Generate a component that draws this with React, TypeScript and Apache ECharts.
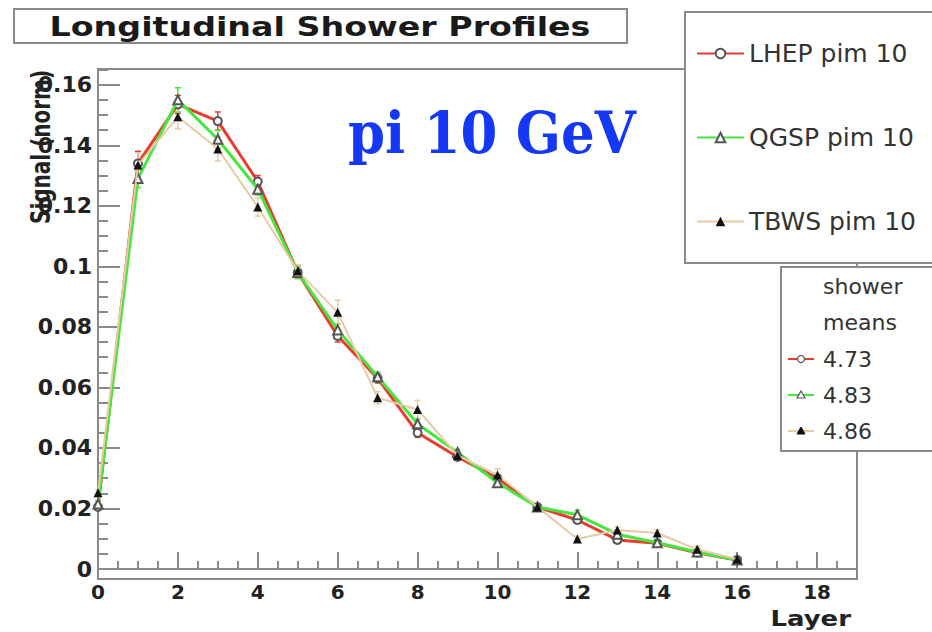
import React, { useEffect, useRef } from "react";
import * as echarts from "echarts";

const layers = [0, 1, 2, 3, 4, 5, 6, 7, 8, 9, 10, 11, 12, 13, 14, 15, 16];
const lhep = [0.0205, 0.134, 0.1535, 0.148, 0.128, 0.098, 0.077, 0.063, 0.045, 0.037, 0.030, 0.0205, 0.0162, 0.0096, 0.0085, 0.0054, 0.003];
const qgsp = [0.0215, 0.129, 0.155, 0.142, 0.1255, 0.098, 0.079, 0.0635, 0.048, 0.0385, 0.0285, 0.0205, 0.0179, 0.0115, 0.0087, 0.0056, 0.003];
const tbws = [0.0252, 0.1335, 0.1494, 0.1388, 0.1196, 0.0985, 0.0848, 0.0566, 0.0527, 0.0375, 0.0311, 0.0205, 0.0099, 0.0129, 0.0119, 0.0065, 0.0032];
const lhepErr = [0.001, 0.004, 0.003, 0.003, 0.002, 0.002, 0.002, 0.0015, 0.0015, 0.001, 0.001, 0.001, 0.001, 0.001, 0.001, 0.001, 0.0008];
const qgspErr = [0.001, 0.003, 0.004, 0.003, 0.002, 0.002, 0.002, 0.0015, 0.0015, 0.001, 0.001, 0.001, 0.0015, 0.001, 0.001, 0.001, 0.0008];
const tbwsErr = [0.001, 0.004, 0.004, 0.004, 0.003, 0.002, 0.004, 0.002, 0.003, 0.001, 0.002, 0.001, 0.001, 0.001, 0.001, 0.001, 0.0008];

const seriesNames = ["LHEP pim 10", "QGSP pim 10", "TBWS pim 10"];
const showerMeans = ["4.73", "4.83", "4.86"];
const lineColors = ["#ec3a2e", "#44e83c", "#e8caa6"];

const chartTitle = "Longitudinal Shower Profiles";
const yTitle = "Signal (norm)";
const xTitle = "Layer";
const overlayLabel = "pi 10 GeV";

const SANS = "DejaVu Sans";

function errSeries(vals: number[], errs: number[], color: string) {
  return {
    type: "custom",
    silent: true,
    z: 1,
    encode: { x: 0, y: 1 },
    data: layers.map((x, i) => [x, vals[i], errs[i]]),
    renderItem: (_params: any, api: any) => {
      const x = api.value(0);
      const y = api.value(1);
      const e = api.value(2);
      const top = api.coord([x, y + e]);
      const bot = api.coord([x, y - e]);
      const st = { stroke: color, lineWidth: 1.5 };
      return {
        type: "group",
        children: [
          { type: "line", shape: { x1: top[0], y1: top[1], x2: bot[0], y2: bot[1] }, style: st },
          { type: "line", shape: { x1: top[0] - 3, y1: top[1], x2: top[0] + 3, y2: top[1] }, style: st },
          { type: "line", shape: { x1: bot[0] - 3, y1: bot[1], x2: bot[0] + 3, y2: bot[1] }, style: st },
        ],
      };
    },
  };
}

export default function App() {
  const ref = useRef<HTMLDivElement>(null);

  useEffect(() => {
    if (!ref.current) return;
    const chart = echarts.init(ref.current, null, { renderer: "svg" });

    const legendBox2 = {
      type: "group",
      z: 10,
      children: [
        { type: "rect", shape: { x: 781, y: 267, width: 220, height: 184 }, style: { fill: "#fff", stroke: "#8a8a8a", lineWidth: 2 } },
        { type: "text", x: 823, y: 286, style: { text: "shower", font: `22px '${SANS}'`, fill: "#333", textVerticalAlign: "middle" } },
        { type: "text", x: 823, y: 322, style: { text: "means", font: `22px '${SANS}'`, fill: "#333", textVerticalAlign: "middle" } },
        { type: "line", shape: { x1: 788, y1: 359, x2: 814, y2: 359 }, style: { stroke: lineColors[0], lineWidth: 2 } },
        { type: "circle", shape: { cx: 801, cy: 359, r: 3.5 }, style: { fill: "#fff", stroke: "#555", lineWidth: 1.2 } },
        { type: "text", x: 823, y: 359, style: { text: showerMeans[0], font: `22px '${SANS}'`, fill: "#333", textVerticalAlign: "middle" } },
        { type: "line", shape: { x1: 788, y1: 395, x2: 814, y2: 395 }, style: { stroke: lineColors[1], lineWidth: 2 } },
        { type: "polygon", shape: { points: [[801, 391], [805, 398], [797, 398]] }, style: { fill: "#fff", stroke: "#555", lineWidth: 1.2 } },
        { type: "text", x: 823, y: 395, style: { text: showerMeans[1], font: `22px '${SANS}'`, fill: "#333", textVerticalAlign: "middle" } },
        { type: "line", shape: { x1: 788, y1: 431, x2: 814, y2: 431 }, style: { stroke: lineColors[2], lineWidth: 2 } },
        { type: "polygon", shape: { points: [[801, 427], [805, 434], [797, 434]] }, style: { fill: "#111", stroke: "#111", lineWidth: 1 } },
        { type: "text", x: 823, y: 431, style: { text: showerMeans[2], font: `22px '${SANS}'`, fill: "#333", textVerticalAlign: "middle" } },
      ],
    };

    const option: any = {
      animation: false,
      backgroundColor: "#fff",
      grid: {
        left: 98,
        top: 69,
        right: 75,
        bottom: 53,
        show: true,
        borderColor: "#8a8a8a",
        borderWidth: 2,
        backgroundColor: "transparent",
      },
      legend: {
        data: seriesNames,
        orient: "vertical",
        left: 685,
        top: 12,
        padding: [29, 260, 29, 11],
        itemGap: 59,
        itemWidth: 47,
        itemHeight: 12,
        borderColor: "#8a8a8a",
        borderWidth: 2,
        borderRadius: 0,
        backgroundColor: "#fff",
        z: 10,
        textStyle: { fontFamily: SANS, fontSize: 25, color: "#333", lineHeight: 24 },
      },
      xAxis: {
        type: "value",
        min: 0,
        max: 19,
        interval: 2,
        axisLine: { show: true, lineStyle: { color: "#8a8a8a", width: 2 } },
        axisTick: { show: true, inside: true, length: 17, lineStyle: { color: "#8a8a8a", width: 2 } },
        minorTick: { show: true, splitNumber: 4, length: 8, lineStyle: { color: "#8a8a8a", width: 2 } },
        splitLine: { show: false },
        axisLabel: {
          margin: 3,
          fontFamily: SANS,
          fontWeight: "bold",
          fontSize: 20,
          color: "#222",
          showMaxLabel: false,
        },
      },
      yAxis: {
        type: "value",
        min: -0.0033,
        max: 0.1652,
        splitNumber: 8,
        axisLine: { show: true, lineStyle: { color: "#8a8a8a", width: 2 } },
        axisTick: { show: true, inside: true, length: 22, lineStyle: { color: "#8a8a8a", width: 2 } },
        minorTick: { show: true, splitNumber: 4, length: 10, lineStyle: { color: "#8a8a8a", width: 2 } },
        splitLine: { show: false },
        axisLabel: {
          margin: 6,
          fontFamily: SANS,
          fontWeight: "bold",
          fontSize: 22,
          color: "#222",
          showMinLabel: false,
          showMaxLabel: false,
        },
      },
      graphic: [
        {
          type: "rect",
          shape: { x: 14, y: 9, width: 613, height: 34 },
          style: { fill: "#fff", stroke: "#8a8a8a", lineWidth: 2 },
        },
        {
          type: "text",
          x: 320,
          y: 27,
          scaleX: 1.28,
          style: {
            text: chartTitle,
            font: `bold 26px '${SANS}'`,
            fill: "#1a1a1a",
            textAlign: "center",
            textVerticalAlign: "middle",
          },
        },
        {
          type: "text",
          x: 40,
          y: 147,
          rotation: Math.PI / 2,
          scaleY: 1.3,
          style: {
            text: yTitle,
            font: `bold 20px '${SANS}'`,
            fill: "#222",
            textAlign: "center",
            textVerticalAlign: "middle",
          },
        },
        {
          type: "text",
          x: 851,
          y: 619,
          scaleX: 1.18,
          style: {
            text: xTitle,
            font: `bold 22px '${SANS}'`,
            fill: "#222",
            textAlign: "right",
            textVerticalAlign: "middle",
          },
        },
        {
          type: "text",
          x: 348,
          y: 133,
          z: 5,
          scaleY: 1.1,
          style: {
            text: overlayLabel,
            font: `bold 53px 'DejaVu Serif'`,
            fill: "#1438f5",
            textAlign: "left",
            textVerticalAlign: "middle",
          },
        },
        legendBox2,
      ],
      series: [
        errSeries(lhep, lhepErr, lineColors[0]),
        errSeries(qgsp, qgspErr, lineColors[1]),
        errSeries(tbws, tbwsErr, lineColors[2]),
        {
          name: seriesNames[0],
          type: "line",
          z: 3,
          data: layers.map((x, i) => [x, lhep[i]]),
          symbol: "emptyCircle",
          symbolSize: 8,
          lineStyle: { color: lineColors[0], width: 3 },
          itemStyle: { color: "#555", borderColor: "#555", borderWidth: 1.5 },
        },
        {
          name: seriesNames[1],
          type: "line",
          z: 4,
          data: layers.map((x, i) => [x, qgsp[i]]),
          symbol: "emptyTriangle",
          symbolSize: 9,
          lineStyle: { color: lineColors[1], width: 3 },
          itemStyle: { color: "#555", borderColor: "#555", borderWidth: 1.5 },
        },
        {
          name: seriesNames[2],
          type: "line",
          z: 5,
          data: layers.map((x, i) => [x, tbws[i]]),
          symbol: "triangle",
          symbolSize: 9,
          lineStyle: { color: lineColors[2], width: 2 },
          itemStyle: { color: "#111" },
        },
      ],
    };

    chart.setOption(option);
    return () => chart.dispose();
  }, []);

  return (
    <div
      ref={ref}
      style={{ position: "fixed", left: 0, top: 0, width: 932, height: 632, background: "#fff" }}
    />
  );
}
